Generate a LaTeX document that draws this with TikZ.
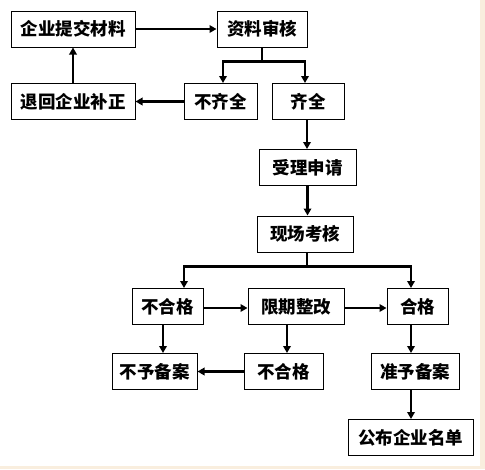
\documentclass[tikz,border=0pt]{standalone}
\usepackage{fontspec}
\setmainfont{Noto Sans CJK SC}
\usetikzlibrary{arrows.meta}
\definecolor{edgebg}{RGB}{249,238,222}
\tikzset{
  box/.style={draw,line width=1pt,minimum height=36pt,inner sep=0,
    font=\fontsize{17.5}{17.5}\selectfont\bfseries},
  arr/.style={line width=2.5pt,-{Triangle[length=7pt,width=7.5pt]}},
  line/.style={line width=2.5pt}
}
\begin{document}
\begin{tikzpicture}[x=1pt,y=-1pt]

\fill[edgebg] (0,0) rectangle (485,469);
\fill[white] (0,0) rectangle (480,466);
\useasboundingbox (0,0) rectangle (485,469);

{
\node[box,minimum width=124pt] (s1) at (73,29) {企业提交材料};
\node[box,minimum width=90pt] (s2) at (262,29) {资料审核};
\node[box,minimum width=124pt] (s3) at (73,101.5) {退回企业补正};
\node[box,minimum width=73pt] (s4) at (220.5,101.5) {不齐全};
\node[box,minimum width=72pt] (s5) at (308,101.5) {齐全};
\node[box,minimum width=97pt] (s6) at (307.5,167.5) {受理申请};
\node[box,minimum width=96pt] (s7) at (305,234) {现场考核};

\node[box,minimum width=71pt] (s8) at (167.5,306.5) {不合格};
\node[box,minimum width=96pt] (s9) at (296,306.5) {限期整改};
\node[box,minimum width=61pt] (s10) at (417.5,306.5) {合格};
\node[box,minimum width=85pt] (s11) at (154.5,371.5) {不予备案};
\node[box,minimum width=79pt] (s12) at (283.5,371.5) {不合格};
\node[box,minimum width=88pt] (s13) at (415,371.5) {准予备案};
\node[box,minimum width=125pt] (s14) at (410.5,437.5) {公布企业名单};
}

% upper part
\draw[arr] (s1.east) -- (s2.west);
\coordinate (j1) at ([yshift=-14pt]s2.south);
\draw[line] (s2.south) -- (j1);
\draw[arr] (j1) -| ([xshift=2.5pt]s4.north);
\draw[arr] (j1) -| ([xshift=-3pt]s5.north);
\draw[arr] (s4.west) -- (s3.east);
\draw[arr] (s3.north) -- (s1.south);
\draw[arr] ([xshift=-1pt]s5.south) -- ([xshift=-1pt]s5.south |- s6.north);
\draw[arr] (s6.south) -- (s6.south |- s7.north);

% lower part
\coordinate (j2) at ([yshift=-14pt,xshift=2pt]s7.south);
\draw[line] ([xshift=2pt]s7.south) -- (j2);
\draw[arr] (j2) -| ([xshift=16.5pt]s8.north);
\draw[arr] (j2) -| ([xshift=-6.5pt]s10.north);
\draw[arr] ([yshift=-1.5pt]s8.east) -- ([yshift=-1.5pt]s9.west);
\draw[arr] ([yshift=-1.5pt]s9.east) -- ([yshift=-1.5pt]s10.west);
\draw[arr] ([xshift=-4.5pt]s8.south) -- ([xshift=-4.5pt]s8.south |- s11.north);
\draw[arr] ([xshift=-9pt]s9.south) -- ([xshift=-9pt]s9.south |- s12.north);
\draw[arr] (s12.west) -- (s11.east);
\draw[arr] ([xshift=-6.5pt]s10.south) -- ([xshift=-6.5pt]s10.south |- s13.north);
\draw[arr] ([xshift=-4pt]s13.south) -- ([xshift=-4pt]s13.south |- s14.north);

\end{tikzpicture}
\end{document}
